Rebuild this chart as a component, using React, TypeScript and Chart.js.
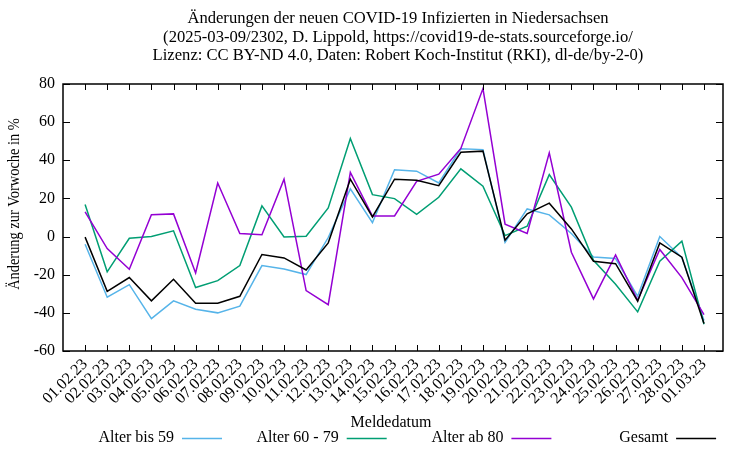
import React, { useEffect, useRef } from 'react';
import { Chart, registerables } from 'chart.js';

Chart.register(...registerables);

const dates = [
  '01.02.23', '02.02.23', '03.02.23', '04.02.23', '05.02.23', '06.02.23', '07.02.23',
  '08.02.23', '09.02.23', '10.02.23', '11.02.23', '12.02.23', '13.02.23', '14.02.23',
  '15.02.23', '16.02.23', '17.02.23', '18.02.23', '19.02.23', '20.02.23', '21.02.23',
  '22.02.23', '23.02.23', '24.02.23', '25.02.23', '26.02.23', '27.02.23', '28.02.23',
  '01.03.23',
];

const alterBis59 = [
  -4.0, -31.8, -25.2, -43.0, -33.7, -38.1, -40.0, -36.5, -15.2, -17.0, -19.9, -0.5,
  25.0, 7.3, 35.0, 34.3, 28.1, 46.0, 45.6, -3.1, 14.5, 11.4, 1.6, -10.7, -11.5,
  -31.3, 0.0, -11.0, -44.0,
];
const alter60bis79 = [
  16.8, -18.5, -0.9, 0.0, 3.0, -26.7, -23.1, -15.2, 16.1, -0.2, 0.2, 15.0, 51.4,
  22.0, 19.9, 11.7, 20.6, 35.5, 26.4, 0.5, 5.4, 32.5, 15.4, -12.4, -25.0, -39.5,
  -12.9, -2.4, -46.0,
];
const alterAb80 = [
  12.9, -6.3, -17.1, 11.4, 11.9, -19.1, 28.1, 1.6, 1.0, 30.1, -28.3, -35.7, 33.6,
  10.8, 10.8, 29.0, 32.7, 46.2, 77.6, 6.5, 1.6, 43.9, -8.2, -32.7, -9.6, -33.4,
  -6.8, -21.5, -40.9,
];
const gesamt = [
  -0.3, -28.7, -21.5, -33.7, -22.4, -35.0, -35.0, -31.3, -9.4, -11.2, -17.5, -3.3,
  30.1, 10.3, 30.1, 29.5, 26.7, 44.2, 44.8, -1.9, 11.9, 17.5, 4.0, -12.9, -14.2,
  -33.9, -3.3, -10.8, -45.6,
];

const yTicks = [-60, -40, -20, 0, 20, 40, 60, 80];

const seriesNames = ['Alter bis 59', 'Alter 60 - 79', 'Alter ab 80', 'Gesamt'];
const seriesColors = ['#56b4e9', '#009e73', '#9400d3', '#000000'];

const titleLines = [
  'Änderungen der neuen COVID-19 Infizierten in Niedersachsen',
  '(2025-03-09/2302, D. Lippold, https://covid19-de-stats.sourceforge.io/',
  'Lizenz: CC BY-ND 4.0, Daten: Robert Koch-Institut (RKI), dl-de/by-2-0)',
];
const xTitle = 'Meldedatum';
const yTitle = 'Änderung zur Vorwoche in %';

const FONT = "'Liberation Serif', 'DejaVu Serif', serif";

const decorPlugin = {
  id: 'decor',
  afterDraw(chart: any) {
    const { ctx, chartArea: a, scales } = chart;
    const xs = scales.x;
    const ys = scales.y;
    ctx.save();
    ctx.strokeStyle = '#000';
    ctx.lineWidth = 1;
    ctx.beginPath();
    for (let i = 0; i < dates.length; i++) {
      const px = Math.round(xs.getPixelForValue(i)) + 0.5;
      ctx.moveTo(px, a.bottom);
      ctx.lineTo(px, a.bottom - 6);
      ctx.moveTo(px, a.top);
      ctx.lineTo(px, a.top + 6);
    }
    for (const v of yTicks) {
      const py = Math.round(ys.getPixelForValue(v)) + 0.5;
      ctx.moveTo(a.left, py);
      ctx.lineTo(a.left + 7, py);
      ctx.moveTo(a.right, py);
      ctx.lineTo(a.right - 7, py);
    }
    ctx.stroke();
    ctx.lineWidth = 1.5;
    ctx.strokeRect(a.left, a.top, a.right - a.left, a.bottom - a.top);

    ctx.fillStyle = '#000';
    ctx.textAlign = 'center';
    ctx.textBaseline = 'middle';
    const cx = (a.left + a.right) / 2 + 5;
    ctx.font = `16.6px ${FONT}`;
    titleLines.forEach((t, i) => ctx.fillText(t, cx, 19 + i * 18.5));

    ctx.font = `16px ${FONT}`;
    ctx.fillText(xTitle, (a.left + a.right) / 2 - 2, 423);

    ctx.save();
    ctx.translate(15, 204);
    ctx.rotate(-Math.PI / 2);
    ctx.scale(0.9, 1);
    ctx.fillText(yTitle, 0, 0);
    ctx.restore();

    // legend
    const legY = 438;
    seriesNames.forEach((name, i) => {
      const lx = 182 + i * 164.7;
      ctx.textAlign = 'right';
      ctx.fillStyle = '#000';
      ctx.fillText(name, lx - 8, legY);
      ctx.strokeStyle = seriesColors[i];
      ctx.lineWidth = 1.5;
      ctx.beginPath();
      ctx.moveTo(lx, legY + 0.5);
      ctx.lineTo(lx + 40, legY + 0.5);
      ctx.stroke();
    });
    ctx.restore();
  },
};

export default function App() {
  const ref = useRef<HTMLCanvasElement | null>(null);

  useEffect(() => {
    if (!ref.current) return;
    const series = [alterBis59, alter60bis79, alterAb80, gesamt];
    const chart = new Chart(ref.current, {
      type: 'line',
      data: {
        datasets: series.map((s, k) => ({
          label: seriesNames[k],
          data: s.map((v, i) => ({ x: i, y: v })),
          borderColor: seriesColors[k],
          backgroundColor: seriesColors[k],
          borderWidth: 1.5,
          pointRadius: 0,
          tension: 0,
          fill: false,
          order: 4 - k,
        })),
      },
      options: {
        responsive: false,
        animation: false,
        layout: { padding: { top: 84, right: 27, left: 0, bottom: 0 } },
        plugins: {
          legend: { display: false },
          title: { display: false },
          tooltip: { enabled: false },
        },
        scales: {
          x: {
            type: 'linear',
            min: -1,
            max: 28.86,
            grid: { display: false, drawTicks: false },
            border: { display: false },
            afterBuildTicks: (scale: any) => {
              scale.ticks = dates.map((_, i) => ({ value: i }));
            },
            afterFit: (scale: any) => {
              scale.height = 99;
            },
            ticks: {
              autoSkip: false,
              minRotation: 45,
              maxRotation: 45,
              padding: 4,
              color: '#000',
              font: { family: FONT, size: 16 },
              callback: (v: any) => dates[Math.round(Number(v))] ?? '',
            },
          },
          y: {
            type: 'linear',
            min: -60,
            max: 80,
            grid: { display: false, drawTicks: false },
            border: { display: false },
            afterFit: (scale: any) => {
              scale.width = 63;
            },
            ticks: {
              stepSize: 20,
              padding: 8,
              color: '#000',
              font: { family: FONT, size: 16 },
            },
          },
        },
      },
      plugins: [decorPlugin],
    } as any);
    return () => chart.destroy();
  }, []);

  return (
    <div style={{ position: 'absolute', left: 0, top: 0, width: 750, height: 450 }}>
      <canvas ref={ref} width={750} height={450} style={{ display: 'block' }} />
    </div>
  );
}
